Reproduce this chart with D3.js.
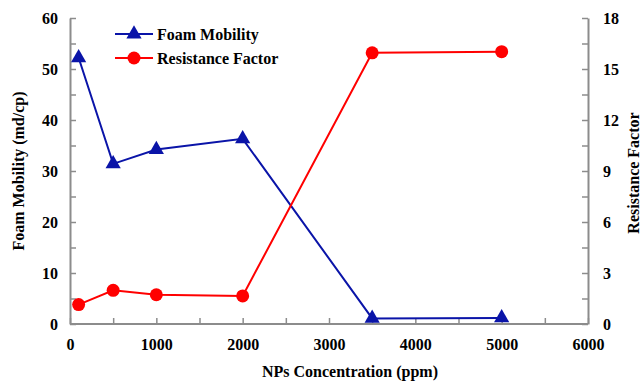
<!DOCTYPE html>
<html><head><meta charset="utf-8">
<script src="https://cdn.jsdelivr.net/npm/d3@7"></script>
<style>body{margin:0;background:#fff}svg{display:block}</style>
</head><body><svg id="c" width="642" height="382"></svg>
<script>
const concentrations = [100, 500, 1000, 2000, 3500, 5000];
const foamMobility = [52.2, 31.4, 34.2, 36.3, 1.1, 1.2];
const resistanceFactor = [1.14, 1.98, 1.72, 1.65, 15.95, 16.02];
const xTicks = [0, 1000, 2000, 3000, 4000, 5000, 6000];
const leftTicks = [0, 10, 20, 30, 40, 50, 60];
const rightTicks = [0, 3, 6, 9, 12, 15, 18];
const seriesNames = ["Foam Mobility", "Resistance Factor"];

const FONT = "'Liberation Serif','Times New Roman','DejaVu Serif',serif";
const svg = d3.select("#c");
const L = 70, R = 588, T = 18, B = 324;
const x = d3.scaleLinear().domain([0, 6000]).range([L, R]);
const yL = d3.scaleLinear().domain([0, 60]).range([B, T]);
const yR = d3.scaleLinear().domain([0, 18]).range([B, T]);
const axisCol = "#8c8c8c";

function styleAxis(g){
  g.attr("font-family", null).attr("font-size", null);
  g.selectAll(".domain").attr("stroke", axisCol).attr("stroke-width", 2);
  g.selectAll(".tick line").attr("stroke", axisCol).attr("stroke-width", 1.5);
  g.selectAll("text").style("font-size", "16px").style("font-family", FONT).style("font-weight","bold").attr("fill","#000");
}
const gx = svg.append("g").attr("transform", `translate(0,${B})`)
  .call(d3.axisBottom(x).tickValues(d3.range(0, 6001, 500)).tickSize(-6).tickSizeOuter(0).tickFormat(d => xTicks.includes(d) ? d : "").tickPadding(15));
styleAxis(gx);
const gl = svg.append("g").attr("transform", `translate(${L},0)`)
  .call(d3.axisLeft(yL).tickValues(d3.range(0, 61, 5)).tickSize(-6).tickSizeOuter(0).tickFormat(d => leftTicks.includes(d) ? d : "").tickPadding(12));
styleAxis(gl);
const gr = svg.append("g").attr("transform", `translate(${R},0)`)
  .call(d3.axisRight(yR).tickValues(d3.range(0, 18.01, 1.5)).tickSize(-6).tickSizeOuter(0).tickFormat(d => rightTicks.includes(d) ? d : "").tickPadding(15));
styleAxis(gr);
gx.selectAll(".domain").attr("d", `M${L},0H${R}`);

const blue = "#0a14a8", red = "#ff0000";
const fm = concentrations.map((c, i) => [c, foamMobility[i]]);
const rf = concentrations.map((c, i) => [c, resistanceFactor[i]]);
svg.append("path").datum(fm).attr("fill","none").attr("stroke",blue).attr("stroke-width",2)
  .attr("d", d3.line().x(d => x(d[0])).y(d => yL(d[1])));
svg.append("path").datum(rf).attr("fill","none").attr("stroke",red).attr("stroke-width",2)
  .attr("d", d3.line().x(d => x(d[0])).y(d => yR(d[1])));
const tri = d3.symbol().type(d3.symbolTriangle).size(100);
svg.selectAll(".fm").data(fm).join("path").attr("fill", blue)
  .attr("transform", d => `translate(${x(d[0])},${yL(d[1])})`).attr("d", tri);
svg.selectAll(".rf").data(rf).join("circle").attr("fill", red)
  .attr("cx", d => x(d[0])).attr("cy", d => yR(d[1])).attr("r", 6.5);

function txt(sel, size){ return sel.style("font-family", FONT).style("font-weight","bold").style("font-size", size+"px").attr("fill","#000"); }

const lg = svg.append("g");
[34, 58].forEach((yy, i) => {
  const col = i === 0 ? blue : red;
  lg.append("line").attr("x1",115).attr("x2",153).attr("y1",yy).attr("y2",yy).attr("stroke",col).attr("stroke-width",2);
  if (i === 0) lg.append("path").attr("transform",`translate(134,${yy})`).attr("d", tri).attr("fill", col);
  else lg.append("circle").attr("cx",134).attr("cy",yy).attr("r",6.5).attr("fill",col);
  txt(lg.append("text").attr("x",157).attr("y",yy).attr("dy","0.35em"), 16).text(seriesNames[i]);
});

txt(svg.append("text").attr("x", 350).attr("y", 377).attr("text-anchor","middle"), 16).text("NPs Concentration (ppm)");
txt(svg.append("text").attr("transform", `translate(24,171) rotate(-90)`).attr("text-anchor","middle"), 16).text("Foam Mobility (md/cp)");
txt(svg.append("text").attr("transform", `translate(639,173) rotate(-90)`).attr("text-anchor","middle"), 16).text("Resistance Factor");
</script></body></html>
